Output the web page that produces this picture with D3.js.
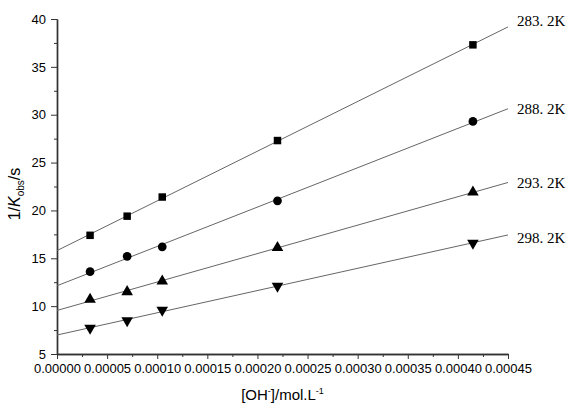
<!DOCTYPE html>
<html>
<head>
<meta charset="utf-8">
<script src="https://cdn.jsdelivr.net/npm/d3@7"></script>
<style>
  body { margin: 0; background: #fff; }
  svg { display: block; }
  .tick text { font-family: Arial, "Liberation Sans", sans-serif; font-size: 13px; fill: #000; }
  .axis path, .axis line { stroke: #333; }
</style>
</head>
<body>
<svg id="chart" width="568" height="406"></svg>
<script>
// data
const concentrations = [0.000033, 0.00007, 0.000105, 0.00022, 0.000415];
const temperatures = ['283. 2K', '288. 2K', '293. 2K', '298. 2K'];
const invK283 = [17.4, 19.4, 21.4, 27.3, 37.3];
const invK288 = [13.6, 15.2, 16.2, 21.0, 29.3];
const invK293 = [10.7, 11.5, 12.6, 16.1, 21.9];
const invK298 = [7.7, 8.5, 9.6, 12.1, 16.6];
const yTicks = [5, 10, 15, 20, 25, 30, 35, 40];
const xTicks = [0, 0.00005, 0.0001, 0.00015, 0.0002, 0.00025, 0.0003, 0.00035, 0.0004, 0.00045];

const seriesList = [invK283, invK288, invK293, invK298];
const markers = [d3.symbolSquare, d3.symbolCircle, d3.symbolTriangle, 'down'];
const labelNudge = [-6, 0, 0, 3];

const width = 568, height = 406;
const margin = { top: 19, right: 60, bottom: 52, left: 57 };

const svg = d3.select('#chart');

const x = d3.scaleLinear().domain([0, 0.00045]).range([margin.left, width - margin.right]);
const y = d3.scaleLinear().domain([5, 40]).range([height - margin.bottom, margin.top]);

// minor ticks halfway between the majors
const xMinor = xTicks.slice(0, -1).map(v => v + 0.000025);
const yMinor = yTicks.slice(0, -1).map(v => v + 2.5);

svg.append('g').attr('class', 'axis')
  .attr('transform', `translate(0,${height - margin.bottom})`)
  .call(d3.axisBottom(x).tickValues(xMinor).tickSize(3).tickFormat('').tickSizeOuter(0));
svg.append('g').attr('class', 'axis')
  .attr('transform', `translate(${margin.left},0)`)
  .call(d3.axisLeft(y).tickValues(yMinor).tickSize(3).tickFormat('').tickSizeOuter(0));

const xAxis = svg.append('g').attr('class', 'axis')
  .attr('transform', `translate(0,${height - margin.bottom})`)
  .call(d3.axisBottom(x).tickValues(xTicks).tickSize(5).tickPadding(5)
    .tickFormat(d3.format('.5f')).tickSizeOuter(0));
const yAxis = svg.append('g').attr('class', 'axis')
  .attr('transform', `translate(${margin.left},0)`)
  .call(d3.axisLeft(y).tickValues(yTicks).tickSize(6).tickPadding(5).tickSizeOuter(0));
svg.selectAll('.axis path').attr('stroke-width', 1.4);

// least squares fit for each temperature
function fit(xs, ys) {
  const mx = d3.mean(xs), my = d3.mean(ys);
  let sxy = 0, sxx = 0;
  xs.forEach((v, i) => { sxy += (v - mx) * (ys[i] - my); sxx += (v - mx) * (v - mx); });
  const slope = sxy / sxx;
  return { slope, intercept: my - slope * mx };
}

const plot = svg.append('g');
seriesList.forEach((vals, si) => {
  const f = fit(concentrations, vals);
  const x0 = x.domain()[0], x1 = x.domain()[1];
  plot.append('line')
    .attr('x1', x(x0)).attr('y1', y(f.intercept + f.slope * x0))
    .attr('x2', x(x1)).attr('y2', y(f.intercept + f.slope * x1))
    .attr('stroke', '#666').attr('stroke-width', 1);

  const m = markers[si];
  const sym = d3.symbol().type(m === 'down' ? d3.symbolTriangle : m)
    .size(m === d3.symbolSquare ? 56 : m === d3.symbolCircle ? 60 : 58);
  plot.selectAll(null).data(vals).enter().append('path')
    .attr('d', sym)
    .attr('transform', (d, i) => `translate(${x(concentrations[i])},${y(d)})` + (m === 'down' ? ' rotate(180)' : ''))
    .attr('fill', '#000');

  plot.append('text')
    .attr('x', x(x1) + 9)
    .attr('y', y(f.intercept + f.slope * x1) + labelNudge[si])
    .attr('dy', '0.35em')
    .style('font-family', '"Liberation Serif", "DejaVu Serif", serif')
    .style('font-size', '15px')
    .text(temperatures[si]);
});

// axis titles
const xTitle = svg.append('text')
  .attr('x', (margin.left + width - margin.right) / 2)
  .attr('y', 400)
  .attr('text-anchor', 'middle')
  .style('font-family', 'Arial, "Liberation Sans", sans-serif')
  .style('font-size', '15px');
xTitle.append('tspan').text('[OH');
xTitle.append('tspan').attr('dy', '-6').style('font-size', '9px').text('-');
xTitle.append('tspan').attr('dy', '6').text(']/mol.L');
xTitle.append('tspan').attr('dy', '-6').style('font-size', '9px').text('-1');

const yTitle = svg.append('text')
  .attr('transform', 'translate(20,194) rotate(-90)')
  .attr('text-anchor', 'middle')
  .style('font-family', 'Arial, "Liberation Sans", sans-serif')
  .style('font-size', '16px');
yTitle.append('tspan').text('1/');
yTitle.append('tspan').style('font-style', 'italic').text('K');
yTitle.append('tspan').attr('dy', '4').style('font-size', '10px').text('obs');
yTitle.append('tspan').attr('dy', '-4').text('/s');
</script>
</body>
</html>
